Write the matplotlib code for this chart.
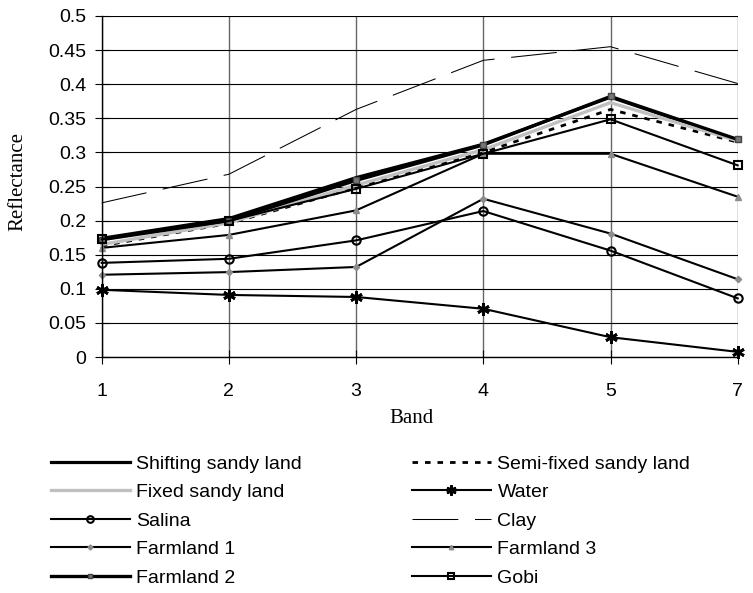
import numpy as np
import matplotlib
matplotlib.use("Agg")
import matplotlib.pyplot as plt

bands = ["1", "2", "3", "4", "5", "7"]

shifting_sandy = [0.174, 0.203, 0.263, 0.312, 0.381, 0.318]
semi_fixed_sandy = [0.163, 0.196, 0.248, 0.300, 0.363, 0.315]
fixed_sandy = [0.165, 0.197, 0.252, 0.304, 0.373, 0.317]
water = [0.0985, 0.091, 0.088, 0.0707, 0.029, 0.0075]
salina = [0.138, 0.144, 0.171, 0.214, 0.156, 0.086]
clay = [0.226, 0.268, 0.363, 0.435, 0.455, 0.401]
farmland1 = [0.1206, 0.1245, 0.132, 0.232, 0.181, 0.114]
farmland3 = [0.160, 0.179, 0.215, 0.298, 0.298, 0.235]
farmland2 = [0.172, 0.200, 0.259, 0.311, 0.382, 0.319]
gobi = [0.1725, 0.1995, 0.2466, 0.298, 0.3485, 0.281]

yticks = [0, 0.05, 0.1, 0.15, 0.2, 0.25, 0.3, 0.35, 0.4, 0.45, 0.5]
ytick_labels = ["0", "0.05", "0.1", "0.15", "0.2", "0.25", "0.3", "0.35", "0.4", "0.45", "0.5"]

W, H = 753, 593
fig = plt.figure(figsize=(W / 100, H / 100), dpi=100)
fig.patch.set_facecolor("white")

left, right, top, bottom = 101.7, 737.7, 16.0, 357.0
ax = fig.add_axes([left / W, 1 - bottom / H, (right - left) / W, (bottom - top) / H])

x = np.arange(len(bands))
gray = "#8c8c8c"

series = [
    ("Shifting sandy land", shifting_sandy, dict(color="black", lw=2.3)),
    ("Semi-fixed sandy land", semi_fixed_sandy, dict(color="black", lw=2.0, dashes=(2.0, 2.5))),
    ("Fixed sandy land", fixed_sandy, dict(color="#c0c0c0", lw=2.4)),
    ("Water", water, dict(color="black", lw=1.5, marker=(6, 2, 0), ms=9, mew=2.0, mec="black")),
    ("Salina", salina, dict(color="black", lw=1.5, marker="o", ms=6, mew=1.5, mec="black", mfc="none")),
    ("Clay", clay, dict(color="black", lw=0.75, dashes=(44, 16))),
    ("Farmland 1", farmland1, dict(color="black", lw=1.5, marker="D", ms=3.2, mec=gray, mfc=gray)),
    ("Farmland 3", farmland3, dict(color="black", lw=1.5, marker="^", ms=4, mec=gray, mfc=gray)),
    ("Farmland 2", farmland2, dict(color="black", lw=2.4, marker="s", ms=4.2, mew=1.0, mec="#444444", mfc="#777777")),
    ("Gobi", gobi, dict(color="black", lw=1.5, marker="s", ms=6, mew=1.5, mec="black", mfc="none")),
]

handles = {}
for name, vals, style in series:
    (ln,) = ax.plot(x, vals, clip_on=False, label=name, **style)
    handles[name] = ln

ax.set_xlim(0, len(bands) - 1)
ax.set_ylim(0, 0.5)
ax.set_xticks(x)
ax.set_xticklabels(bands)
ax.set_yticks(yticks)
ax.set_yticklabels(ytick_labels)

for lab in ax.get_xticklabels() + ax.get_yticklabels():
    lab.set_fontfamily("Liberation Sans")
    lab.set_fontsize(14)

ax.tick_params(axis="y", direction="inout", length=9.4, width=0.8, pad=6.5)
ax.tick_params(axis="x", direction="inout", length=9.4, width=0.8, pad=14)

ax.grid(axis="y", color="black", lw=0.8)
ax.grid(axis="x", color="#666666", lw=1.0)
ax.set_axisbelow(True)
for side in ["top", "right"]:
    ax.spines[side].set_visible(False)
for side in ["left", "bottom"]:
    ax.spines[side].set_color("black")
    ax.spines[side].set_linewidth(1.0)

fig.text(412 / W, 1 - 423 / H, "Band", family="Liberation Serif", fontsize=15,
         ha="center", va="baseline")
fig.text(17.5 / W, 1 - 181.5 / H, "Reflectance", family="Liberation Serif", fontsize=15,
         rotation=90, ha="center", va="center")

col1 = ["Shifting sandy land", "Fixed sandy land", "Salina", "Farmland 1", "Farmland 2"]
col2 = ["Semi-fixed sandy land", "Water", "Clay", "Farmland 3", "Gobi"]

legend_kw = dict(
    loc="upper left", frameon=False, borderpad=0, borderaxespad=0,
    handlelength=4.06, handletextpad=0.35, labelspacing=0.56,
    prop={"family": "Liberation Sans", "size": 14}, markerscale=0.8,
)
leg1 = fig.legend([handles[n] for n in col1], col1,
                  bbox_to_anchor=(50.7 / W, 1 - 455 / H), **legend_kw)
leg2 = fig.legend([handles[n] for n in col2], col2,
                  bbox_to_anchor=(411.7 / W, 1 - 455 / H), **legend_kw)

fig.savefig("out.png", dpi=100, facecolor="white")
